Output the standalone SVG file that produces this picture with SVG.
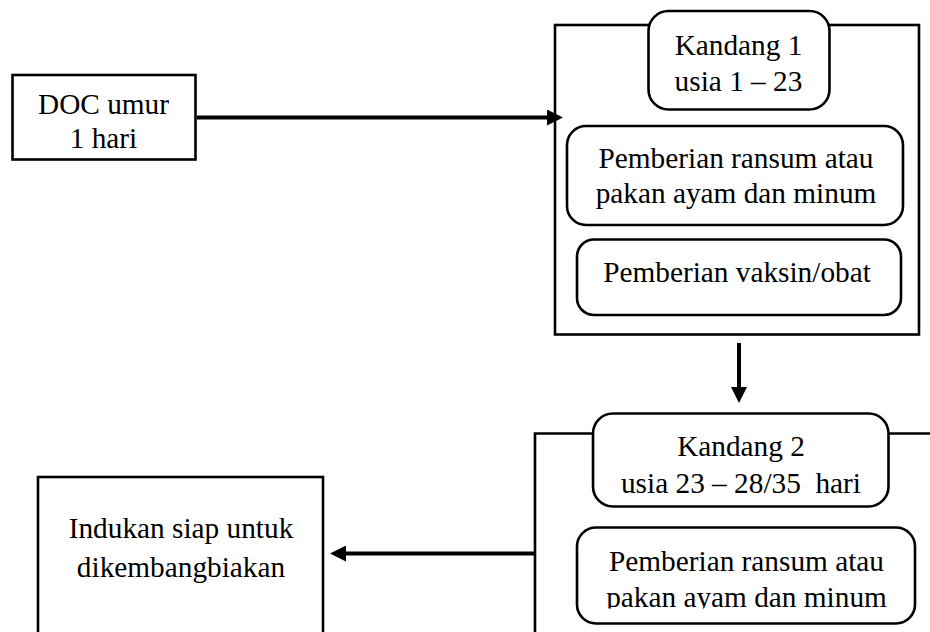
<svg xmlns="http://www.w3.org/2000/svg" width="930" height="632" viewBox="0 0 930 632">
  <style>
    .box { fill: #ffffff; stroke: #000000; stroke-width: 2.6; }
    .frame { fill: none; stroke: #000000; stroke-width: 2.6; }
    .conn { fill: none; stroke: #000000; stroke-width: 4; }
    text { font-family: "Liberation Serif", "Times New Roman", serif; font-size: 29.3px; fill: #000000; text-anchor: middle; }
  </style>
  <defs>
    <marker id="arrowhead" markerUnits="userSpaceOnUse" markerWidth="16" markerHeight="16" refX="0" refY="8" orient="auto">
      <path d="M0,0 L16,8 L0,16 z" fill="#000000"/>
    </marker>
    <clipPath id="clip-ransum2">
      <rect x="560" y="520" width="370" height="88.5"/>
    </clipPath>
  </defs>

  <rect width="930" height="632" fill="#ffffff"/>

  <!-- Kandang 1 enclosure -->
  <g id="kandang1">
    <rect class="frame" x="555" y="25" width="364" height="309.5"/>
    <g id="kandang1-header">
      <rect class="box" x="648.5" y="11" width="181" height="98.5" rx="20"/>
      <text x="738.5" y="55">Kandang 1</text>
      <text x="738.5" y="91">usia 1 – 23</text>
    </g>
    <g id="kandang1-pakan">
      <rect class="box" x="567" y="126" width="336" height="99" rx="19"/>
      <text x="736" y="168">Pemberian ransum atau</text>
      <text x="736" y="203">pakan ayam dan minum</text>
    </g>
    <g id="kandang1-vaksin">
      <rect class="box" x="577" y="239.5" width="324" height="75.5" rx="17"/>
      <text x="737" y="281.5">Pemberian vaksin/obat</text>
    </g>
  </g>

  <!-- Kandang 2 enclosure (runs past the page edges) -->
  <g id="kandang2">
    <path class="frame" d="M934,433.5 H535 V636"/>
    <g id="kandang2-header">
      <rect class="box" x="593" y="413.5" width="295.5" height="93" rx="20"/>
      <text x="741" y="456">Kandang 2</text>
      <text x="741" y="493" xml:space="preserve">usia 23 – 28/35  hari</text>
    </g>
    <g id="kandang2-pakan">
      <rect class="box" x="577" y="527.5" width="338" height="96" rx="19"/>
      <g clip-path="url(#clip-ransum2)">
        <text x="746.5" y="571">Pemberian ransum atau</text>
        <text x="746.5" y="607">pakan ayam dan minum</text>
      </g>
    </g>
  </g>

  <g id="doc">
    <rect class="box" x="12.5" y="75" width="183" height="84.5"/>
    <text x="103.5" y="114">DOC umur</text>
    <text x="103.5" y="148">1 hari</text>
  </g>

  <g id="indukan">
    <rect class="box" x="38" y="477" width="285" height="170"/>
    <text x="181" y="538">Indukan siap untuk</text>
    <text x="181" y="577">dikembangbiakan</text>
  </g>

  <!-- connectors -->
  <g id="connectors">
    <path class="conn" d="M197,117.5 H547" marker-end="url(#arrowhead)"/>
    <path class="conn" d="M739,343 V387" marker-end="url(#arrowhead)"/>
    <path class="conn" d="M535,553.5 H346" marker-end="url(#arrowhead)"/>
  </g>
</svg>
